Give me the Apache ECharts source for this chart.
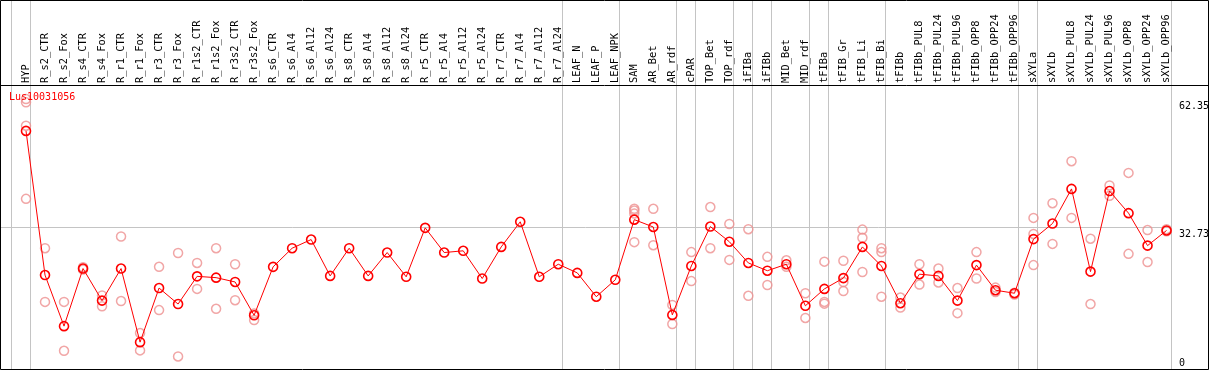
<!DOCTYPE html>
<html>
<head>
<meta charset="utf-8">
<script src="https://cdn.jsdelivr.net/npm/echarts@6/dist/echarts.min.js"></script>
<style>
html,body{margin:0;padding:0;background:#fff;}
#chart{width:1209px;height:370px;}
</style>
</head>
<body>
<div id="chart"></div>
<script>
const geneName = 'Lus10031056';
const categories = [
  'HYP','R_s2_CTR','R_s2_Fox','R_s4_CTR','R_s4_Fox','R_r1_CTR','R_r1_Fox','R_r3_CTR','R_r3_Fox',
  'R_r1s2_CTR','R_r1s2_Fox','R_r3s2_CTR','R_r3s2_Fox','R_s6_CTR','R_s6_Al4','R_s6_Al12','R_s6_Al24',
  'R_s8_CTR','R_s8_Al4','R_s8_Al12','R_s8_Al24','R_r5_CTR','R_r5_Al4','R_r5_Al12','R_r5_Al24',
  'R_r7_CTR','R_r7_Al4','R_r7_Al12','R_r7_Al24','LEAF_N','LEAF_P','LEAF_NPK','SAM','AR_Bet','AR_rdf',
  'cPAR','TOP_Bet','TOP_rdf','iFIBa','iFIBb','MID_Bet','MID_rdf','tFIBa','tFIB_Gr','tFIB_Li','tFIB_Bi',
  'tFIBb','tFIBb_PUL8','tFIBb_PUL24','tFIBb_PUL96','tFIBb_OPP8','tFIBb_OPP24','tFIBb_OPP96',
  'sXYLa','sXYLb','sXYLb_PUL8','sXYLb_PUL24','sXYLb_PUL96','sXYLb_OPP8','sXYLb_OPP24','sXYLb_OPP96'
];
const meanValues = [
  55.0, 21.7, 9.9, 23.2, 15.8, 23.2, 6.2, 18.7, 15.0,
  21.4, 21.1, 20.1, 12.4, 23.6, 27.9, 29.9, 21.5,
  27.9, 21.5, 26.9, 21.3, 32.6, 26.9, 27.3, 20.9,
  28.2, 34.0, 21.3, 24.2, 22.2, 16.7, 20.6, 34.5, 32.8, 12.5,
  23.8, 32.9, 29.4, 24.5, 22.7, 24.2, 14.6, 18.5, 21.0, 28.2, 23.8,
  15.2, 21.9, 21.5, 15.8, 24.0, 18.2, 17.5,
  30.0, 33.6, 41.6, 22.5, 41.1, 36.0, 28.5, 32.0
];
const replicates = [
  [62.35, 61.6, 56.2, 39.3], [27.9, 15.5], [15.5, 4.2], [23.5, 23.0], [17.0, 14.5], [30.6, 15.7], [8.3, 4.3], [23.6, 13.6], [26.8, 2.9],
  [24.5, 18.5], [27.9, 13.9], [24.2, 15.9], [12.8, 11.3], [], [], [], [],
  [], [], [], [], [], [], [], [],
  [], [], [], [], [], [], [], [37.0, 36.6, 35.9, 29.3], [37.0, 28.6], [14.8, 10.4],
  [27.0, 20.3], [37.4, 27.9], [33.5, 25.2], [32.3, 16.9], [25.9, 19.4], [25.1, 23.6], [17.5, 11.8], [24.8, 15.5, 15.1], [25.0, 20.1, 18.0], [32.2, 30.3, 22.4], [27.9, 27.0, 16.7],
  [16.5, 14.2], [24.2, 19.5], [23.2, 20.0], [18.7, 12.9], [27.0, 20.9], [18.8, 17.8], [17.6, 17.2],
  [34.9, 31.2, 24.0], [38.3, 28.9], [48.0, 34.9], [30.1, 15.0], [42.4, 40.0], [45.3, 26.6], [32.1, 24.7], [32.3, 31.8]
];
const yTickValues = [0, 32.73, 62.35];
const refValue = 32.73;
const groupSizes = [1, 28, 3, 3, 1, 2, 1, 1, 2, 1, 3, 7, 1, 7];

const mono = '"DejaVu Sans Mono", "Liberation Mono", monospace';
const chart = echarts.init(document.getElementById('chart'), null, {renderer: 'canvas'});

const meanData = meanValues.map((v, i) => [i, v]);
const repData = [];
replicates.forEach((arr, i) => arr.forEach(v => repData.push([i, v])));
const idx = categories.map((c, i) => i);

chart.setOption({
  animation: false,
  backgroundColor: '#fff',
  grid: {left: 0, right: 38, top: 85, bottom: 1, show: false},
  xAxis: {
    type: 'value', position: 'top', min: -1.368, max: 60.234,
    axisLine: {show: false}, axisTick: {show: false}, splitLine: {show: false},
    axisLabel: {
      customValues: idx, rotate: 90, margin: 2, color: '#000',
      fontFamily: mono, fontSize: 10.4,
      formatter: v => categories[Math.round(v)] || ''
    }
  },
  yAxis: {
    type: 'value', min: 0, max: 65.6,
    axisLine: {show: false}, axisTick: {show: false}, splitLine: {show: false},
    axisLabel: {show: false}
  },
  series: [
    {
      type: 'scatter', data: repData, symbol: 'circle', symbolSize: 9, z: 3,
      itemStyle: {color: 'rgba(0,0,0,0)', borderColor: '#ee9090', borderWidth: 1.5},
      silent: true
    },
    {
      type: 'line', data: meanData, symbol: 'circle', symbolSize: 9, z: 4,
      lineStyle: {color: '#ff0000', width: 1},
      itemStyle: {color: 'rgba(0,0,0,0)', borderColor: '#ff0000', borderWidth: 1.6},
      silent: true,
      markLine: {
        silent: true, symbol: 'none', label: {show: false},
        lineStyle: {color: '#c4c4c4', type: 'solid', width: 1},
        data: [{yAxis: refValue}], z: 1
      }
    }
  ]
});

// frame, separators and y tick labels placed from the library's scales
const graphics = [];
let cum = -1;
const sepVals = [cum + 0.2];
groupSizes.forEach(s => { cum += s; sepVals.push(cum + 0.21); });
sepVals.forEach(v => {
  const x = Math.round(chart.convertToPixel({xAxisIndex: 0}, v)) + 0.5;
  graphics.push({type: 'line', z: 0, silent: true,
    shape: {x1: x, y1: 0, x2: x, y2: 369}, style: {stroke: '#c4c4c4', lineWidth: 1}});
});
graphics.push({type: 'line', z: 10, silent: true,
  shape: {x1: 0, y1: 85.5, x2: 1209, y2: 85.5}, style: {stroke: '#000', lineWidth: 1}});
graphics.push({type: 'rect', z: 10, silent: true,
  shape: {x: 0.5, y: 0.5, width: 1208, height: 369}, style: {stroke: '#000', fill: 'none', lineWidth: 1}});
yTickValues.forEach((v, k) => {
  const y = chart.convertToPixel({yAxisIndex: 0}, v);
  const isBottom = (k === 0);
  graphics.push({type: 'text', z: 10, silent: true, x: 1179, y: isBottom ? y - 1 : y + 2,
    style: {text: String(v), fill: '#000', font: '10px ' + mono,
      verticalAlign: isBottom ? 'bottom' : 'top'}});
});
graphics.push({type: 'text', z: 10, silent: true, x: 9, y: 97,
  style: {text: geneName, fill: '#ff0000', font: '10px ' + mono, verticalAlign: 'middle'}});
chart.setOption({graphic: graphics});
</script>
</body>
</html>
